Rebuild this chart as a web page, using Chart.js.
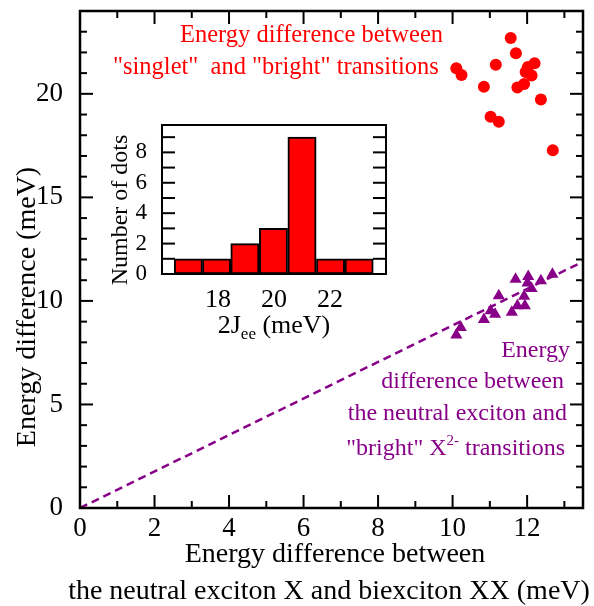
<!DOCTYPE html>
<html><head><meta charset="utf-8">
<script src="https://cdn.jsdelivr.net/npm/chart.js@4.4.1/dist/chart.umd.min.js"></script>
<style>
html,body{margin:0;padding:0;background:#fff;}
#wrap{position:relative;width:594px;height:606px;overflow:hidden;}
#main{position:absolute;left:0;top:0;}
#inset{position:absolute;left:100px;top:115px;}
</style></head><body>
<div id="wrap">
<canvas id="main" width="594" height="606"></canvas>
<canvas id="inset" width="300" height="230"></canvas>
</div>
<script>
// ---- data ----
const singletX = [10.10, 10.24, 10.84, 11.02, 11.16, 11.24, 11.56, 11.70, 11.74, 11.92, 11.96, 12.02, 12.12, 12.20, 12.37, 12.69];
const singletY = [21.24, 20.91, 20.34, 18.89, 21.41, 18.65, 22.70, 21.96, 20.31, 20.48, 21.05, 21.30, 20.89, 21.48, 19.73, 17.28];
const brightX  = [10.10, 10.22, 10.84, 11.02, 11.14, 11.24, 11.59, 11.69, 11.74, 11.92, 11.94, 12.01, 12.03, 12.12, 12.37, 12.68];
const brightY  = [8.35, 8.72, 9.10, 9.53, 9.36, 10.25, 9.45, 11.05, 9.77, 10.22, 9.77, 10.86, 11.18, 10.60, 10.97, 11.29];
const fitX = [0, 13.5];
const fitY = [0, 11.9];
const xTickValues = [0, 2, 4, 6, 8, 10, 12];
const yTickValues = [0, 5, 10, 15, 20];
const histCenters = [16.94, 17.95, 18.96, 19.98, 21.00, 22.02, 23.04];
const histCounts  = [1, 1, 2, 3, 9, 1, 1];
const histXTicks = [18, 20, 22];
const histYTicks = [0, 2, 4, 6, 8];

const SERIF = '"Liberation Serif", "Times New Roman", serif';
const RED = '#ff0000';
const PURPLE = '#880088';

function pts(xs, ys){ return xs.map((v,i)=>({x:v, y:ys[i]})); }
function seg(ctx,x1,y1,x2,y2){ ctx.beginPath(); ctx.moveTo(x1,y1); ctx.lineTo(x2,y2); ctx.stroke(); }
function noPad(s){ s.paddingTop = 0; s.paddingBottom = 0; s.paddingLeft = 0; s.paddingRight = 0; }

const mainDecor = {
  id: 'mainDecor',
  afterDraw(chart){
    const {ctx, chartArea:a, scales:{x, y}} = chart;
    ctx.save();
    ctx.strokeStyle = '#000'; ctx.lineWidth = 2;
    for (let v = 1; v <= 13; v++){
      const px = x.getPixelForValue(v); const L = v % 2 === 0 ? 13 : 7;
      seg(ctx, px, a.bottom, px, a.bottom - L);
      seg(ctx, px, a.top, px, a.top + L);
    }
    for (let v = 1; v <= 23; v++){
      const py = y.getPixelForValue(v); const L = v % 5 === 0 ? 13 : 7;
      seg(ctx, a.left, py, a.left + L, py);
      seg(ctx, a.right, py, a.right - L, py);
    }
    ctx.lineWidth = 2.5;
    ctx.strokeRect(a.left, a.top, a.right - a.left, a.bottom - a.top);

    // axis titles
    ctx.fillStyle = '#000';
    ctx.font = '28px ' + SERIF;
    ctx.textAlign = 'center'; ctx.textBaseline = 'alphabetic';
    ctx.fillText('Energy difference between', 335, 562);
    ctx.fillText('the neutral exciton X and biexciton XX (meV)', 329, 599);
    ctx.save();
    ctx.translate(35, 307); ctx.rotate(-Math.PI/2);
    ctx.fillText('Energy difference (meV)', 0, 0);
    ctx.restore();

    // red annotation
    ctx.font = '24.5px ' + SERIF;
    ctx.fillStyle = RED; ctx.textAlign = 'left';
    ctx.fillText('Energy difference between', 180, 42);
    ctx.fillText('"singlet"  and "bright" transitions', 113, 74);

    // purple annotation (right aligned)
    ctx.font = '24px ' + SERIF;
    ctx.fillStyle = PURPLE; ctx.textAlign = 'right';
    ctx.fillText('Energy', 570, 357);
    ctx.fillText('difference between', 564, 388);
    ctx.fillText('the neutral exciton and', 567, 420);
    const right = 565, base = 455;
    ctx.textAlign = 'left';
    const p1 = '"bright" X', p3 = ' transitions', sup = '2-';
    ctx.font = '24px ' + SERIF;
    const w1 = ctx.measureText(p1).width, w3 = ctx.measureText(p3).width;
    ctx.font = '15px ' + SERIF;
    const w2 = ctx.measureText(sup).width;
    const start = right - (w1 + w2 + w3);
    ctx.font = '24px ' + SERIF;
    ctx.fillText(p1, start, base);
    ctx.fillText(p3, start + w1 + w2, base);
    ctx.font = '15px ' + SERIF;
    ctx.fillText(sup, start + w1, base - 10);
    ctx.restore();
  }
};

new Chart(document.getElementById('main'), {
  type: 'scatter',
  data: {
    datasets: [
      { type: 'line', data: pts(fitX, fitY), borderColor: PURPLE, borderWidth: 2.5,
        borderDash: [8, 5], pointRadius: 0, fill: false, tension: 0 },
      { data: pts(singletX, singletY), pointStyle: 'circle', pointRadius: 6,
        backgroundColor: RED, borderColor: RED, borderWidth: 0 },
      { data: pts(brightX, brightY), pointStyle: 'triangle', pointRadius: 7,
        backgroundColor: PURPLE, borderColor: PURPLE, borderWidth: 0 }
    ]
  },
  options: {
    responsive: false, animation: false,
    layout: { padding: { left: 0, top: 11, right: 11, bottom: 0 } },
    plugins: { legend: { display: false }, tooltip: { enabled: false } },
    scales: {
      x: { type: 'linear', min: 0, max: 13.5,
        grid: { display: false }, border: { display: false },
        afterBuildTicks: s => { s.ticks = xTickValues.map(v => ({ value: v })); },
        afterFit: s => { s.height = 98; noPad(s); },
        ticks: { color: '#000', font: { family: SERIF, size: 27 }, padding: -3, maxRotation: 0, autoSkip: false }
      },
      y: { type: 'linear', min: 0, max: 24,
        grid: { display: false }, border: { display: false },
        afterBuildTicks: s => { s.ticks = yTickValues.map(v => ({ value: v })); },
        afterFit: s => { s.width = 80; noPad(s); },
        ticks: { color: '#000', font: { family: SERIF, size: 27 }, padding: 9, autoSkip: false }
      }
    }
  },
  plugins: [mainDecor]
});

const insetDecor = {
  id: 'insetDecor',
  afterDraw(chart){
    const {ctx, chartArea:a, scales:{x, y}} = chart;
    ctx.save();
    ctx.strokeStyle = '#000'; ctx.lineWidth = 2;
    for (let v = 1; v <= 9; v++){
      const py = y.getPixelForValue(v);
      seg(ctx, a.left, py, a.left + 13, py);
      seg(ctx, a.right, py, a.right - 13, py);
    }
    ctx.strokeRect(a.left, a.top, a.right - a.left, a.bottom - a.top);
    ctx.fillStyle = '#000';
    ctx.font = '24px ' + SERIF;
    ctx.textBaseline = 'alphabetic';
    ctx.save();
    ctx.translate(27, 95); ctx.rotate(-Math.PI/2);
    ctx.textAlign = 'center';
    ctx.fillText('Number of dots', 0, 0);
    ctx.restore();
    // 2J_ee (meV)
    const base = 218;
    ctx.textAlign = 'left';
    ctx.font = '26px ' + SERIF;
    const a1 = '2J', a3 = ' (meV)', sub = 'ee';
    const w1 = ctx.measureText(a1).width, w3 = ctx.measureText(a3).width;
    ctx.font = '17px ' + SERIF;
    const w2 = ctx.measureText(sub).width;
    const cx = (a.left + a.right) / 2;
    const start = cx - (w1 + w2 + w3) / 2;
    ctx.font = '26px ' + SERIF;
    ctx.fillText(a1, start, base);
    ctx.fillText(a3, start + w1 + w2, base);
    ctx.font = '17px ' + SERIF;
    ctx.fillText(sub, start + w1, base + 6);
    ctx.restore();
  }
};

new Chart(document.getElementById('inset'), {
  type: 'bar',
  data: {
    datasets: [{ data: pts(histCenters, histCounts), backgroundColor: RED,
      borderColor: '#000', borderWidth: 2, borderSkipped: false,
      barPercentage: 1, categoryPercentage: 1 }]
  },
  options: {
    responsive: false, animation: false,
    layout: { padding: { left: 0, top: 10, right: 14, bottom: 0 } },
    plugins: { legend: { display: false }, tooltip: { enabled: false } },
    scales: {
      x: { type: 'linear', min: 16, max: 24, offset: false,
        grid: { display: false }, border: { display: false },
        afterBuildTicks: s => { s.ticks = histXTicks.map(v => ({ value: v })); },
        afterFit: s => { s.height = 71; noPad(s); },
        ticks: { color: '#000', font: { family: SERIF, size: 26 }, padding: 3, maxRotation: 0, autoSkip: false }
      },
      y: { type: 'linear', min: 0, max: 9.8,
        grid: { display: false }, border: { display: false },
        afterBuildTicks: s => { s.ticks = histYTicks.map(v => ({ value: v })); },
        afterFit: s => { s.width = 62; noPad(s); },
        ticks: { color: '#000', font: { family: SERIF, size: 23 }, padding: 7, autoSkip: false }
      }
    }
  },
  plugins: [insetDecor]
});
</script>
</body></html>
